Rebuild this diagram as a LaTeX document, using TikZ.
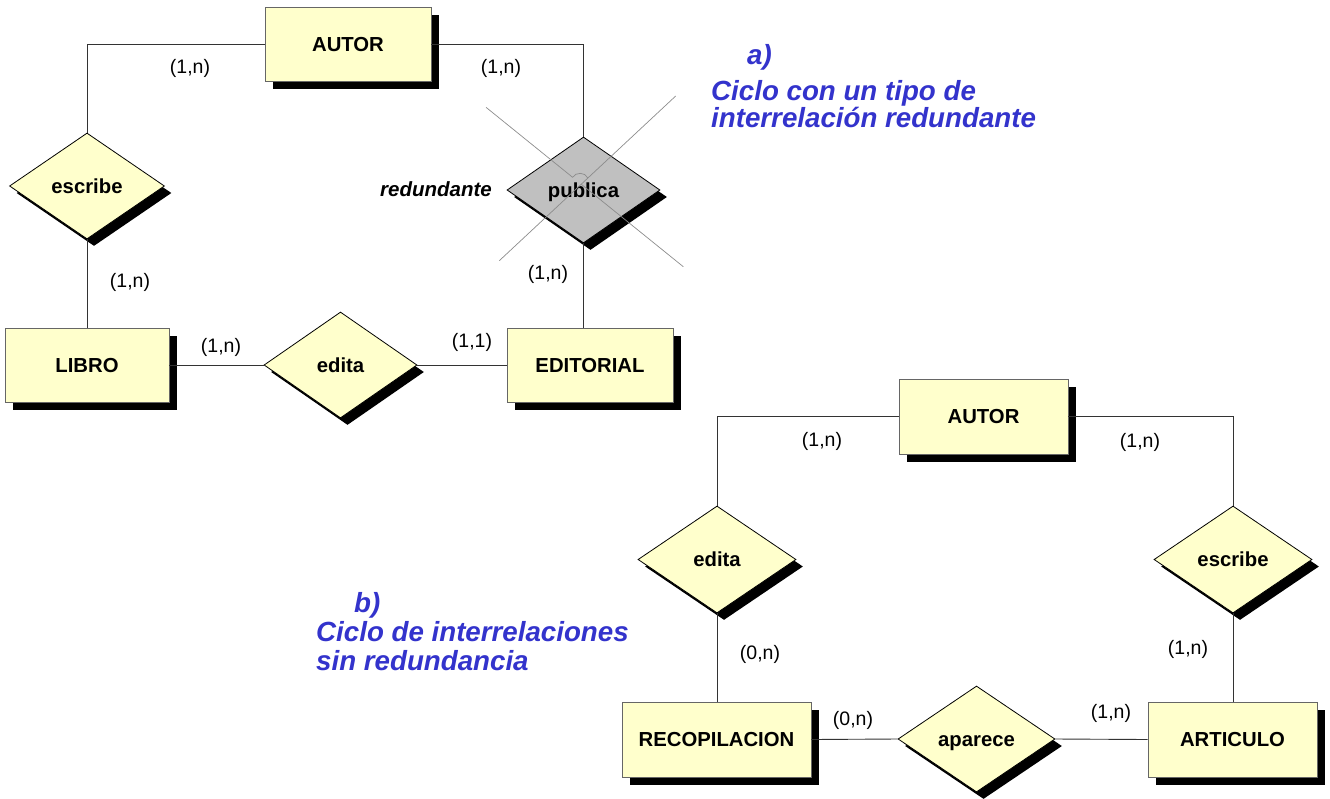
\documentclass[tikz,border=0pt]{standalone}
\usepackage{fontspec}
\setmainfont{Liberation Sans}
\usetikzlibrary{shapes.geometric,shadows}
\definecolor{boxfill}{RGB}{255,255,204}
\definecolor{grayfill}{RGB}{192,192,192}
\definecolor{titleblue}{RGB}{51,51,204}
\begin{document}
\begin{tikzpicture}[x=1pt,y=-1pt,
  entity/.style={rectangle,draw=black!60,line width=0.9pt,fill=boxfill,inner sep=0pt,
    drop shadow={shadow xshift=8pt,shadow yshift=-8pt,opacity=1,fill=black},
    font=\fontsize{20.3}{24}\selectfont\bfseries,text height=14.5pt,text depth=0pt},
  rel/.style={diamond,draw=black,line width=0.8pt,fill=boxfill,inner sep=0pt,
    drop shadow={shadow xshift=7pt,shadow yshift=-7pt,opacity=1,fill=black},
    font=\fontsize{20.3}{24}\selectfont\bfseries,text height=14.5pt,text depth=0pt,
    minimum width=155pt,minimum height=106pt},
  card/.style={font=\fontsize{19.5}{23}\selectfont,text height=14.2pt,text depth=4.1pt,inner sep=0pt},
  conn/.style={draw=black!80,line width=0.9pt},
  ttl/.style={font=\fontsize{27.7}{33}\selectfont\bfseries\itshape,text=titleblue,inner sep=0pt,anchor=base west},
  crossline/.style={draw=black!45,line width=0.7pt}]
\useasboundingbox (0,0) rectangle (1330,798);

% ---------- part a ----------
\node[entity,minimum width=166pt,minimum height=74pt] (autorA) at (348,44) {AUTOR};
\node[entity,minimum width=164pt,minimum height=74pt] (libro) at (87,365) {LIBRO};
\node[entity,minimum width=166pt,minimum height=74pt] (editorial) at (590,365) {EDITORIAL};
\node[rel] (escribeA) at (87,186) {escribe};
\node[rel,fill=grayfill,minimum width=153pt] (publica) at (583.5,190) {publica};
\node[rel,minimum width=153pt] (editaA) at (340.5,365) {edita};

\draw[conn] (autorA.west) -| (escribeA.north);
\draw[conn] (autorA.east) -| (publica.north);
\draw[conn] (escribeA.south) -- (libro.north);
\draw[conn] (libro.east) -- (editaA.west);
\draw[conn] (editaA.east) -- (editorial.west);
\draw[conn] (publica.south) -- (publica.south |- editorial.north);

% cross over publica (with a line hop)
\coordinate (xa1) at (486,107.3);
\coordinate (xa2) at (572.6,177.3);
\coordinate (xc) at (581.2,184.2);
\coordinate (xh) at (587.8,178.1);
\coordinate (xa4) at (683.3,266.7);
\coordinate (xb1) at (675.7,96);
\coordinate (xb2) at (499.3,260.7);
\draw[crossline] (xa1) -- (xa2) .. controls (575.5,171.9) and (585.5,171.9) .. (xh);
\draw[crossline] (xc) -- (xa4);
\draw[crossline] (xb1) -- (xb2);

\node[card] (ca1) at (190,68) {(1,n)};
\node[card] (ca2) at (501,68) {(1,n)};
\node[card] (ca3) at (130,282) {(1,n)};
\node[card] (ca4) at (221,347) {(1,n)};
\node[card] (ca5) at (472,342) {(1,1)};
\node[card] (ca6) at (548,274) {(1,n)};
\node[font=\fontsize{20.5}{24}\selectfont\bfseries\itshape,inner sep=0pt,anchor=base east] (redund) at (492,196) {redundante};

\node[ttl] (ta1) at (747,64) {a)};
\node[ttl] (ta2) at (711,100) {Ciclo con un tipo de};
\node[ttl] (ta3) at (711,127) {interrelación redundante};

% ---------- part b ----------
\node[entity,minimum width=169pt,minimum height=75pt] (autorB) at (983.5,416.5) {AUTOR};
\node[entity,minimum width=189pt,minimum height=75pt] (recop) at (716.5,739.5) {RECOPILACION};
\node[entity,minimum width=169pt,minimum height=75pt] (artic) at (1232.5,739.5) {ARTICULO};
\node[rel,minimum width=158pt,minimum height=107pt] (editaB) at (717,559.5) {edita};
\node[rel,minimum width=158pt,minimum height=107pt] (escribeB) at (1233,559.5) {escribe};
\node[rel,minimum width=157pt] (aparece) at (976.5,739) {aparece};

\draw[conn] (autorB.west) -| (editaB.north);
\draw[conn] (autorB.east) -| (escribeB.north);
\draw[conn] (editaB.south) -- (editaB.south |- recop.north);
\draw[conn] (escribeB.south) -- (escribeB.south |- artic.north);
\draw[conn] (recop.east) -- (aparece.west);
\draw[conn] (aparece.east) -- (artic.west);

\node[card] (cb1) at (822,441) {(1,n)};
\node[card] (cb2) at (1140,442) {(1,n)};
\node[card] (cb3) at (760,654) {(0,n)};
\node[card] (cb4) at (1188,649) {(1,n)};
\node[card] (cb5) at (853,720) {(0,n)};
\node[card] (cb6) at (1111,713) {(1,n)};

\node[ttl] (tb1) at (354,612) {b)};
\node[ttl] (tb2) at (316,641) {Ciclo de interrelaciones};
\node[ttl] (tb3) at (316,670) {sin redundancia};
\end{tikzpicture}
\end{document}
